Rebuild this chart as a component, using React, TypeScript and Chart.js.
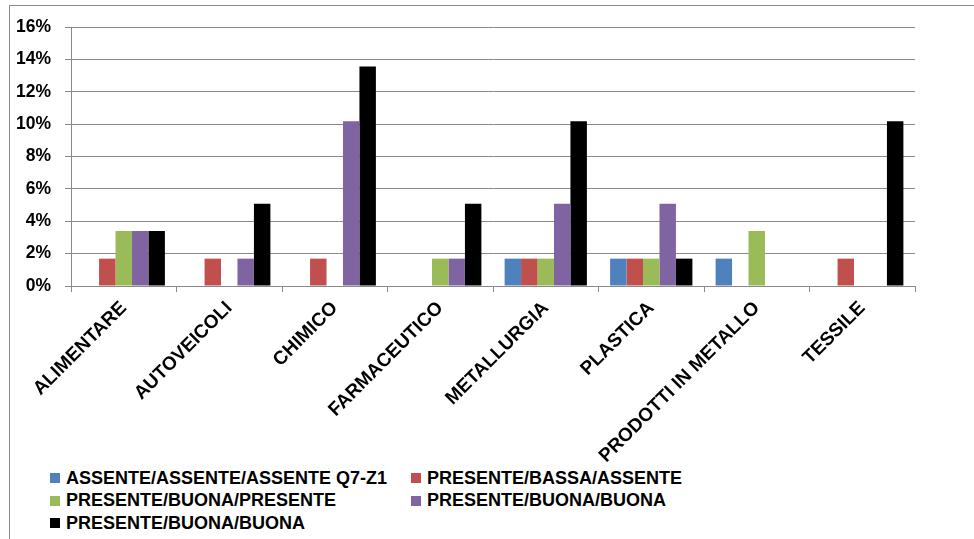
import React, { useEffect, useRef } from "react";
import { Chart, registerables } from "chart.js";

Chart.register(...registerables);

// Sectors on the category axis
const categories = [
  "ALIMENTARE",
  "AUTOVEICOLI",
  "CHIMICO",
  "FARMACEUTICO",
  "METALLURGIA",
  "PLASTICA",
  "PRODOTTI IN METALLO",
  "TESSILE",
];

// Share of companies (%) per profile, one value per sector
const assenteAssenteAssente = [0, 0, 0, 0, 1.69, 1.69, 1.69, 0];
const presenteBassaAssente = [1.69, 1.69, 1.69, 0, 1.69, 1.69, 0, 1.69];
const presenteBuonaPresente = [3.39, 0, 0, 1.69, 1.69, 1.69, 3.39, 0];
const presenteBuonaBuonaA = [3.39, 1.69, 10.17, 1.69, 5.08, 5.08, 0, 0];
const presenteBuonaBuonaB = [3.39, 5.08, 13.56, 5.08, 10.17, 1.69, 0, 10.17];

const seriesLabels = [
  "ASSENTE/ASSENTE/ASSENTE Q7-Z1",
  "PRESENTE/BASSA/ASSENTE",
  "PRESENTE/BUONA/PRESENTE",
  "PRESENTE/BUONA/BUONA",
  "PRESENTE/BUONA/BUONA",
];
const seriesColors = ["#4F81BD", "#C0504D", "#9BBB59", "#8064A2", "#000000"];
const seriesValues = [
  assenteAssenteAssente,
  presenteBassaAssente,
  presenteBuonaPresente,
  presenteBuonaBuonaA,
  presenteBuonaBuonaB,
];

const yTicks = [0, 2, 4, 6, 8, 10, 12, 14, 16];

const FONT = "'Liberation Sans', Arial, sans-serif";
const GRID = "#8a8a8a";

export default function App() {
  const canvasRef = useRef<HTMLCanvasElement | null>(null);

  useEffect(() => {
    const canvas = canvasRef.current;
    if (!canvas) return;
    Chart.defaults.font.family = FONT;
    Chart.defaults.color = "#000";

    const chart = new Chart(canvas, {
      type: "bar",
      data: {
        labels: categories,
        datasets: seriesValues.map((values, i) => ({
          label: seriesLabels[i],
          data: values,
          backgroundColor: seriesColors[i],
          borderWidth: 0,
          categoryPercentage: 0.78,
          barPercentage: 1,
        })),
      },
      options: {
        animation: false,
        responsive: false,
        maintainAspectRatio: false,
        layout: { padding: { top: 27, right: 59, left: 0, bottom: 0 } },
        plugins: {
          legend: { display: false },
          tooltip: { enabled: false },
        },
        scales: {
          x: {
            offset: true,
            grid: {
              offset: true,
              drawOnChartArea: false,
              drawTicks: true,
              tickLength: 6,
              color: GRID,
            },
            border: { display: true, color: GRID },
            ticks: {
              autoSkip: false,
              maxRotation: 45,
              minRotation: 45,
              padding: 5,
              font: { size: 19, weight: "bold" },
              color: "#000",
            },
            afterFit: (scale: any) => {
              scale.height = 179;
            },
          },
          y: {
            min: 0,
            max: 16,
            afterBuildTicks: (scale: any) => {
              scale.ticks = yTicks.map((v) => ({ value: v }));
            },
            grid: {
              color: GRID,
              lineWidth: 1,
              tickLength: 6,
              drawTicks: true,
            },
            border: { display: true, color: GRID },
            ticks: {
              padding: 14,
              font: { size: 17.5, weight: "bold" },
              color: "#000",
              callback: (v: any) => `${v}%`,
            },
            afterFit: (scale: any) => {
              scale.width = 71;
            },
          },
        },
      },
    });
    return () => chart.destroy();
  }, []);

  return (
    <div
      style={{
        position: "fixed",
        left: 0,
        top: 0,
        width: 974,
        height: 539,
        background: "#fff",
        overflow: "hidden",
        fontFamily: FONT,
      }}
    >
      <div
        style={{
          position: "absolute",
          left: 9,
          top: 5,
          width: 980,
          height: 560,
          borderLeft: "1px solid #8a8a8a",
          borderTop: "1px solid #8a8a8a",
        }}
      />
      <canvas
        ref={canvasRef}
        width={974}
        height={465}
        style={{ position: "absolute", left: 0, top: 0, width: 974, height: 465 }}
      />
      {seriesLabels.map((label, i) => {
        const col = i % 2;
        const row = Math.floor(i / 2);
        return (
          <div
            key={i}
            style={{
              position: "absolute",
              left: 50 + col * 361,
              top: 467 + row * 22.5,
              height: 22,
              display: "flex",
              alignItems: "center",
              whiteSpace: "nowrap",
              fontSize: 18,
              fontWeight: "bold",
              color: "#000",
            }}
          >
            <span
              style={{
                display: "inline-block",
                width: 10,
                height: 10,
                background: seriesColors[i],
                marginRight: 6,
              }}
            />
            {label}
          </div>
        );
      })}
    </div>
  );
}
